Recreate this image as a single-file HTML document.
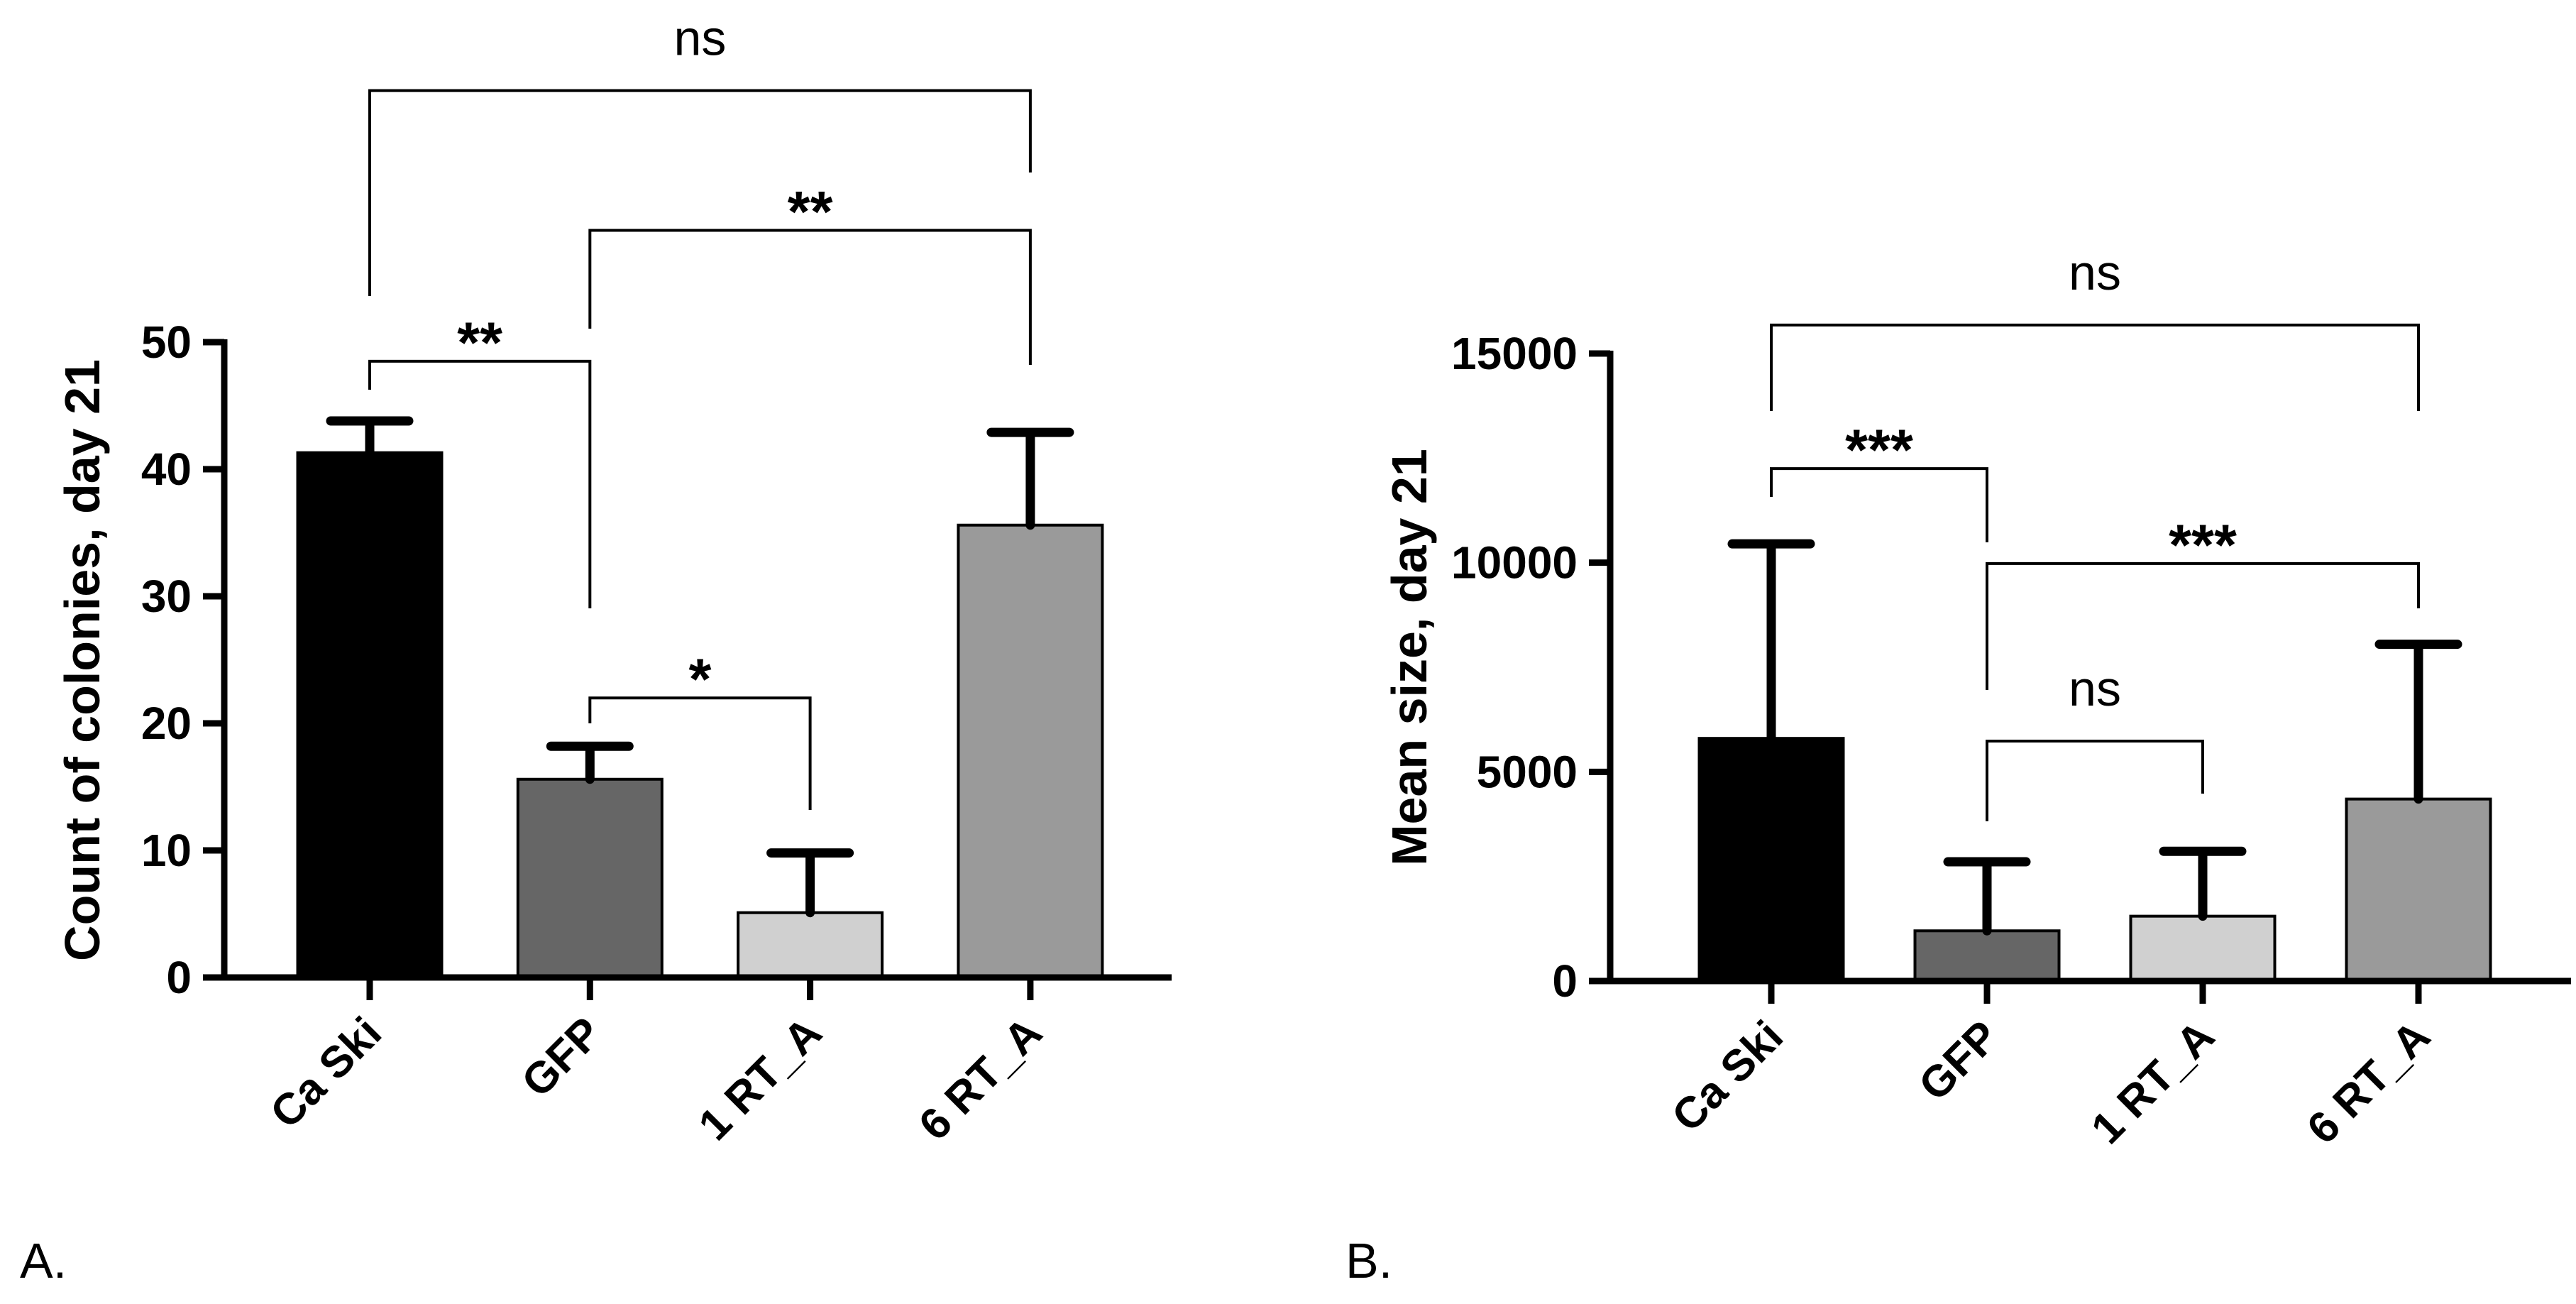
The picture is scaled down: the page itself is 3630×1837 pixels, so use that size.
<!DOCTYPE html>
<html><head><meta charset="utf-8"><style>
html,body{margin:0;padding:0;background:#fff;}
svg{display:block;font-family:"Liberation Sans",Arial,sans-serif;}
</style></head><body>
<svg id="fig" width="3630" height="1837" viewBox="0 0 3630 1837"></svg>
<script>
const categories = ["Ca Ski", "GFP", "1 RT_A", "6 RT_A"];
const colors = ["#000000", "#666666", "#d0d0d0", "#9a9a9a"];
const countMeans = [41.3, 15.6, 5.1, 35.6];
const countErrors = [43.8, 18.2, 9.8, 42.9];
const countTicks = [0, 10, 20, 30, 40, 50];
const sizeMeans = [5800, 1200, 1550, 4350];
const sizeErrors = [10450, 2850, 3100, 8050];
const sizeTicks = [0, 5000, 10000, 15000];
const countComparisons = [[0, 3, "ns"], [1, 3, "**"], [0, 1, "**"], [1, 2, "*"]];
const countCompValues = [69.8, 58.8, 48.5, 22.0];
const sizeComparisons = [[0, 3, "ns"], [0, 1, "***"], [1, 3, "***"], [1, 2, "ns"]];
const sizeCompValues = [15680, 12250, 9980, 5735];

const NS = "http://www.w3.org/2000/svg";
const svg = document.getElementById("fig");
function mk(tag, attrs, parent) {
  const e = document.createElementNS(NS, tag);
  for (const k in attrs) e.setAttribute(k, attrs[k]);
  (parent || svg).appendChild(e);
  return e;
}

function drawChart(cfg) {
  const g = mk("g", {});
  
  
  const yMax = cfg.ticks[cfg.ticks.length - 1];
  const y = v => cfg.y0 - (v / yMax) * (cfg.y0 - cfg.yTop);
  const x = i => cfg.x0 + i * cfg.step;
  const bw = 203;
  categories.forEach((c, i) => {
    const r = mk("rect", {x: x(i) - bw / 2, y: y(cfg.means[i]), width: bw, height: cfg.y0 - y(cfg.means[i]), fill: colors[i], stroke: "#000", "stroke-width": 4}, g);
    
    
    const e = mk("path", {d: `M${x(i)},${y(cfg.means[i])}V${y(cfg.errors[i])}M${x(i) - 55},${y(cfg.errors[i])}H${x(i) + 55}`, stroke: "#000", "stroke-width": 13, "stroke-linecap": "round", fill: "none"}, g);
    
    
  });
  const ax = mk("path", {d: `M${cfg.axX},${cfg.yTop - 4}V${cfg.y0}H${cfg.xEnd}`, stroke: "#000", "stroke-width": 9, fill: "none"}, g);
  
  
  cfg.ticks.forEach(t => {
    mk("line", {x1: cfg.axX - 30, x2: cfg.axX, y1: y(t), y2: y(t), stroke: "#000", "stroke-width": 9}, g);
    const tx = mk("text", {x: cfg.axX - 46, y: y(t) + 22, "text-anchor": "end", "font-size": 64, "font-weight": "bold"}, g);
    tx.textContent = t;
    
    
  });
  categories.forEach((c, i) => {
    mk("line", {x1: x(i), x2: x(i), y1: cfg.y0, y2: cfg.y0 + 32, stroke: "#000", "stroke-width": 9}, g);
    const tx = mk("text", {x: x(i) + 20, y: cfg.y0 + 82, "text-anchor": "end", "font-size": 62, "font-weight": "bold", transform: `rotate(-45 ${x(i) + 20} ${cfg.y0 + 82})`}, g);
    tx.textContent = c;
    
    
  });
  const yt = mk("text", {x: cfg.titleX, y: cfg.titleY, "text-anchor": "middle", "font-size": 70, "font-weight": "bold", transform: `rotate(-90 ${cfg.titleX} ${cfg.titleY})`}, g);
  yt.textContent = cfg.title;
  
  
  cfg.comps.forEach((cp, k) => {
    const [a, b, lab] = cp;
    const by = y(cfg.compVals[k]);
    const la = cfg.legs[k];
    const p = mk("path", {d: `M${x(a)},${la[0]}V${by}H${x(b)}V${la[1]}`, stroke: "#000", "stroke-width": 4, fill: "none"}, g);
    
    
    const star = lab.indexOf("*") >= 0;
    const tx = mk("text", {x: (x(a) + x(b)) / 2, y: star ? by + 2 : by - 50, "text-anchor": "middle", "font-size": star ? 82 : 70, "font-weight": star ? "bold" : "normal"}, g);
    tx.textContent = lab;
    
    
  });
  return g;
}

drawChart({name: "chart-a-colony-count", x0: 521, step: 310.3, axX: 316, xEnd: 1651, y0: 1377, yTop: 482,
  ticks: countTicks, means: countMeans, errors: countErrors, title: "Count of colonies, day 21", titleX: 140, titleY: 930,
  comps: countComparisons, compVals: countCompValues, legs: [[417, 243], [463, 514], [549, 857], [1019, 1141]]});
drawChart({name: "chart-b-mean-size", x0: 2496, step: 304, axX: 2269, xEnd: 3623, y0: 1382, yTop: 498,
  ticks: sizeTicks, means: sizeMeans, errors: sizeErrors, title: "Mean size, day 21", titleX: 2010, titleY: 926,
  comps: sizeComparisons, compVals: sizeCompValues, legs: [[579, 579], [700, 764], [972, 857], [1157, 1118]]});

const la = mk("text", {x: 28, y: 1800, "font-size": 70});
la.textContent = "A.";


const lb = mk("text", {x: 1896, y: 1800, "font-size": 70});
lb.textContent = "B.";


</script>
</body></html>
